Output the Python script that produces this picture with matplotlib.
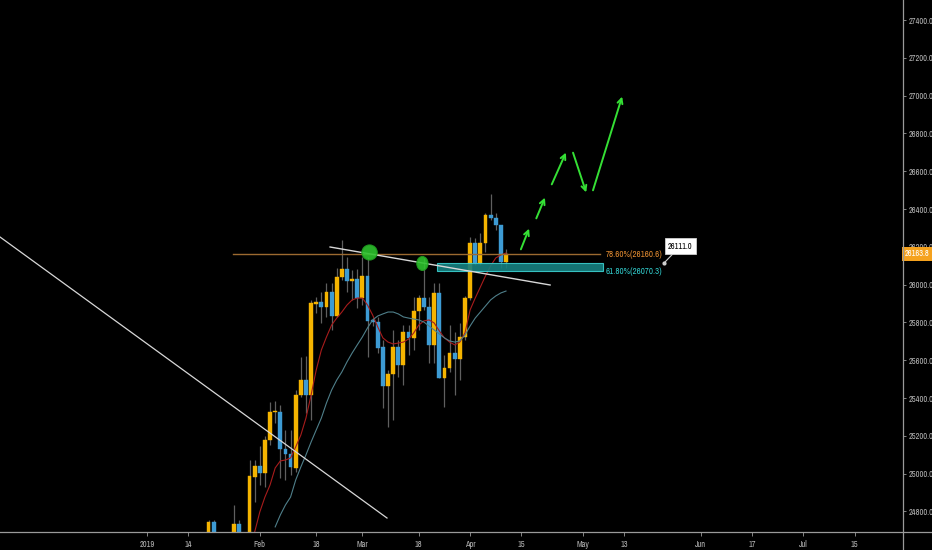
import matplotlib
matplotlib.use("Agg")
import matplotlib.pyplot as plt
import matplotlib.transforms as mtransforms
from matplotlib import font_manager
from matplotlib.lines import Line2D
from matplotlib.patches import Ellipse, Rectangle

# bar index = weekday number counted from 2 Jan 2019
bar_idx = [12, 13, 17, 18, 20, 21, 22, 23, 24, 25, 26, 27, 28, 29, 30, 31, 32, 33, 34, 35,
           36, 37, 38, 39, 40, 41, 42, 43, 44, 45, 46, 47, 48, 49, 50, 51, 52, 53, 54, 55,
           56, 57, 58, 59, 60, 61, 62, 63, 64, 65, 66, 67, 68, 69, 70]
opens = [24622, 24744, 24649, 24733, 24622, 24982, 25040, 25003, 25178, 25326, 25326, 25130, 25104, 25030, 25416, 25495, 25416, 25897, 25908, 25882,
         25961, 25834, 26040, 26083, 26019, 26030, 25929, 26046, 25813, 25802, 25670, 25464, 25527, 25670, 25575, 25749, 25718, 25860, 25929, 25882,
         25681, 25956, 25506, 25559, 25638, 25606, 25723, 25929, 26220, 26114, 26220, 26368, 26353, 26316, 26120]
highs = [24754, 24754, 24834, 24754, 25072, 25072, 25146, 25199, 25379, 25384, 25363, 25231, 25231, 25442, 25617, 25622, 25919, 25935, 25961, 26009,
         26009, 26088, 26236, 26146, 26077, 26083, 26146, 26146, 25823, 25829, 25707, 25548, 25760, 25707, 25786, 25786, 25935, 25945, 26141, 25935,
         26009, 26009, 25628, 25786, 25749, 25797, 25940, 26252, 26247, 26273, 26379, 26480, 26379, 26316, 26188]
lows = [24606, 24606, 24622, 24622, 24606, 24850, 24940, 24929, 25151, 25268, 24977, 24966, 24993, 25009, 25405, 25321, 25284, 25850, 25797, 25829,
        25760, 25829, 26024, 25961, 25919, 25876, 25892, 25617, 25781, 25638, 25347, 25247, 25284, 25511, 25469, 25628, 25654, 25760, 25866, 25585,
        25585, 25506, 25353, 25538, 25416, 25495, 25707, 25919, 26104, 26104, 26173, 26342, 26289, 26088, 26088]
closes = [24744, 24622, 24733, 24649, 24987, 25040, 25003, 25178, 25326, 25331, 25130, 25104, 25035, 25416, 25495, 25416, 25903, 25908, 25882, 25961,
          25834, 26040, 26083, 26019, 26030, 25929, 26046, 25808, 25802, 25665, 25464, 25527, 25670, 25575, 25749, 25718, 25860, 25929, 25882, 25681,
          25956, 25506, 25559, 25638, 25606, 25723, 25929, 26220, 26114, 26220, 26368, 26353, 26316, 26120, 26162]

# moving averages (red = fast, slate = slow)
ma_fast_idx = list(range(21, 71))
ma_fast = [24691, 24797, 24876, 24940, 25030, 25067, 25072, 25083, 25141, 25204,
           25294, 25416, 25548, 25654, 25723, 25786, 25823, 25855, 25892, 25919,
           25929, 25929, 25892, 25839, 25776, 25718, 25696, 25686, 25691, 25696,
           25712, 25744, 25786, 25808, 25813, 25797, 25755, 25718, 25696, 25681,
           25696, 25744, 25866, 25929, 25987, 26046, 26099, 26141, 26157, 26167]
ma_slow_idx = list(range(25, 71))
ma_slow = [24718, 24781, 24834, 24876, 24966, 25035, 25099, 25167, 25231, 25294,
           25374, 25442, 25495, 25538, 25591, 25638, 25681, 25723, 25771, 25813,
           25834, 25845, 25855, 25855, 25845, 25829, 25823, 25818, 25813, 25802,
           25781, 25760, 25739, 25718, 25702, 25696, 25702, 25733, 25781, 25823,
           25855, 25887, 25919, 25940, 25956, 25966]

tick_pos = [0, 8, 22, 33, 42, 53, 63, 73, 85, 93, 108, 118, 128, 138]
tick_lbl = ["2019", "14", "Feb", "18", "Mar", "18", "Apr", "15", "May", "13", "Jun", "17", "Jul", "15"]
price_ticks = list(range(24800, 27401, 200))

# drawings
fib_786 = 26160.6
fib_618 = 26070.3
zone_top = 26114
last_price = 26163.8
callout_price = 26111.0
long_line_x = [-28.65, 46.8]
long_line_y = [26252, 24765]
trend_x = [35.7, 78.6]
trend_y = [26199, 25998]
arrows = [((72.7, 26173), (74.7, 26310)),
          ((75.7, 26337), (77.8, 26474)),
          ((78.7, 26517), (81.9, 26712)),
          ((82.9, 26712), (85.8, 26474)),
          ((86.8, 26485), (92.8, 27009))]
circles = [(43.4, 26170, 3.0, 80), (53.7, 26112, 2.2, 74)]

UP = '#f5b400'
DOWN = '#3d9bd4'
WICK = '#5f5f5f'
AXC = '#9a9a9a'
TXT = '#b4b4b4'

# narrow font if there is one, otherwise small Liberation Sans
narrow = None
for f in font_manager.fontManager.ttflist:
    if 'Narrow' in f.name and f.style == 'normal' and f.weight in (400, 'normal', 'regular'):
        narrow = f.name
        break
if narrow:
    fam, fs = narrow, 6.0
else:
    fam, fs = 'Liberation Sans', 5.0

fig = plt.figure(figsize=(9.32, 5.5), dpi=100, facecolor='black')
ax = fig.add_axes([0, 18 / 550, 903 / 932, 532 / 550])
ax.set_facecolor('black')
ax.set_xlim(-28.65, 147.4)
ax.set_ylim(24691, 27506)

# candles
for i in range(len(bar_idx)):
    o, h, l, c = opens[i], highs[i], lows[i], closes[i]
    col = UP if c >= o else DOWN
    ax.vlines(bar_idx[i], l, h, color=WICK, lw=0.9, zorder=2)
    ax.bar(bar_idx[i], max(abs(c - o), 6), bottom=min(o, c), width=0.75,
           color=col, edgecolor=col, lw=0.3, zorder=3)

ax.plot(ma_fast_idx, ma_fast, color='#a81c1c', lw=0.8, zorder=4)
ax.plot(ma_slow_idx, ma_slow, color='#4f7f8a', lw=0.8, zorder=4)

# lines
ax.plot(long_line_x, long_line_y, color='#d8d8d8', lw=0.9, zorder=5)
ax.plot(trend_x, trend_y, color='#d8d8d8', lw=1.0, zorder=6)
ax.plot([16.8, 88.3], [fib_786, fib_786], color='#9c6a30', lw=1.0, zorder=5)
ax.add_patch(Rectangle((56.5, fib_618), 88.9 - 56.5, zone_top - fib_618,
                       facecolor='#178080', edgecolor='#3cd0d0', lw=0.8, alpha=0.9, zorder=5))
ax.text(89.4, fib_786, "78.60%(26160.6)", color='#e08a30', family=fam, fontsize=fs + 0.4,
        va='center', ha='left')
ax.text(89.4, fib_618, "61.80%(26070.3)", color='#30c8c8', family=fam, fontsize=fs + 0.4,
        va='center', ha='left')

for cx, cy, w, h in circles:
    ax.add_patch(Ellipse((cx, cy), w, h, facecolor='#2dc22d', edgecolor='#1f9a1f', lw=0.8, alpha=0.9, zorder=7))

for (x0, y0), (x1, y1) in arrows:
    ax.annotate('', xy=(x1, y1), xytext=(x0, y0),
                arrowprops=dict(arrowstyle='->', color='#35e035', lw=1.4, mutation_scale=9), zorder=8)

ax.annotate(f"{callout_price:.1f}", xy=(100.8, zone_top), xytext=(104.0, 26204), family=fam,
            fontsize=fs, color='black', ha='center', va='center',
            bbox=dict(boxstyle='square,pad=0.4', fc='white', ec='#cfcfcf', lw=0.6),
            arrowprops=dict(arrowstyle='-', color='#cfcfcf', lw=0.8, shrinkA=0, shrinkB=0))
ax.plot([100.8], [zone_top], 'o', color='#cfcfcf', ms=2, zorder=8)

# axes styling
for s in ['top', 'left', 'right', 'bottom']:
    ax.spines[s].set_visible(False)
ax.yaxis.tick_right()
ax.set_yticks(price_ticks)
ax.set_yticklabels([f"{p:.1f}" for p in price_ticks], family=fam, fontsize=fs)
ax.set_xticks(tick_pos)
ax.set_xticklabels(tick_lbl, family=fam, fontsize=fs)
ax.tick_params(axis='y', colors=AXC, labelcolor=TXT, length=2.5, pad=1.5, width=0.6)
ax.tick_params(axis='x', colors=AXC, labelcolor=TXT, length=3, pad=3, width=0.6)

fig.add_artist(Line2D([0, 1], [18 / 550, 18 / 550], color=AXC, lw=0.9, transform=fig.transFigure))
fig.add_artist(Line2D([903 / 932, 903 / 932], [0, 1], color=AXC, lw=0.9, transform=fig.transFigure))

trans = mtransforms.blended_transform_factory(ax.transAxes, ax.transData)
ax.text(1.002, last_price, f"{last_price:.1f}", transform=trans, color='white', family=fam,
        fontsize=fs, va='center', ha='left', zorder=10,
        bbox=dict(boxstyle='square,pad=0.3', fc='#f5a21e', ec='none'))

fig.savefig('out.png', dpi=100, facecolor='black')
